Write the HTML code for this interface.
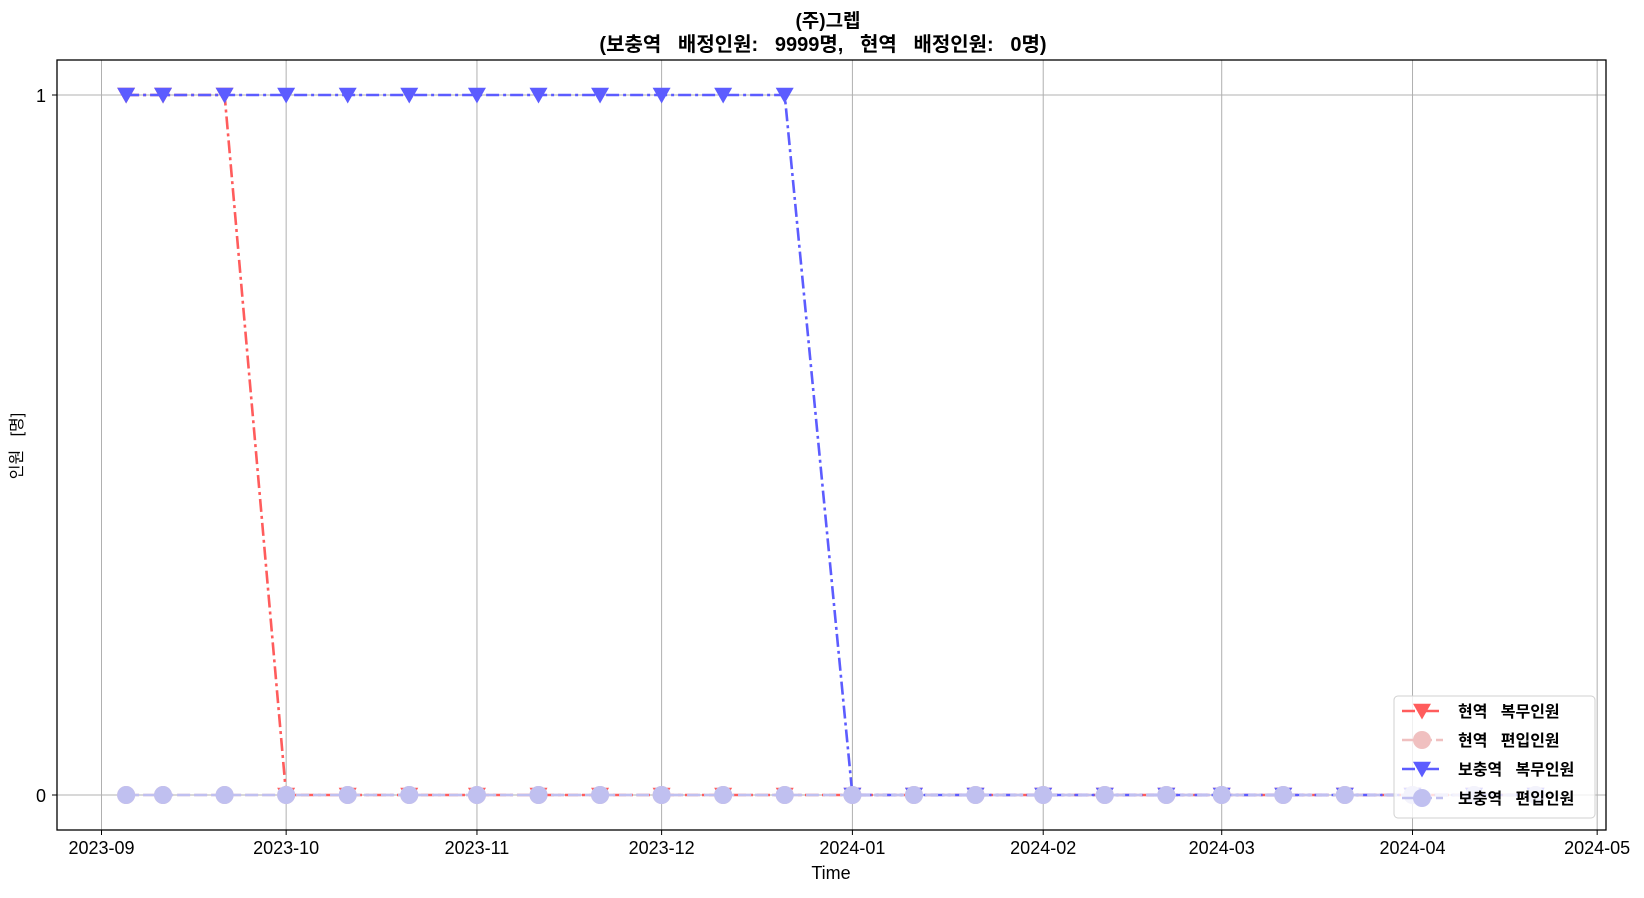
<!DOCTYPE html>
<html><head><meta charset="utf-8"><style>
body{margin:0;background:#fff;}
svg text{font-family:"Liberation Sans","Noto Sans CJK KR",sans-serif;fill:#000;white-space:pre;}
</style></head><body>
<svg id="chart" width="1644" height="893" xmlns="http://www.w3.org/2000/svg">
<text x="828" y="27" text-anchor="middle" font-size="19" font-weight="bold">(주)그렙</text>
<text x="823" y="51" text-anchor="middle" font-size="20" font-weight="bold">(보충역   배정인원:   9999명,   현역   배정인원:   0명)</text>
<g id="grid"></g>
<g id="series"></g>
<rect x="57" y="60" width="1549" height="770" fill="none" stroke="#000" stroke-width="1.3"/>
<g id="axes"></g>
<text x="831" y="879" text-anchor="middle" font-size="18">Time</text>
<text transform="translate(22,446) rotate(-90)" text-anchor="middle" font-size="16">인원   [명]</text>
<g id="legend"></g>
</svg>
<script>
const dates = ["2023-09-05","2023-09-11","2023-09-21","2023-10-01","2023-10-11","2023-10-21","2023-11-01","2023-11-11","2023-11-21","2023-12-01","2023-12-11","2023-12-21","2024-01-01","2024-01-11","2024-01-21","2024-02-01","2024-02-11","2024-02-21","2024-03-01","2024-03-11","2024-03-21","2024-04-01","2024-04-11","2024-04-21"];
const activeService = [1,1,1,0,0,0,0,0,0,0,0,0,0,0,0,0,0,0,0,0,0,0,0,0];
const activeTransfer = [0,0,0,0,0,0,0,0,0,0,0,0,0,0,0,0,0,0,0,0,0,0,0,0];
const reserveService = [1,1,1,1,1,1,1,1,1,1,1,1,0,0,0,0,0,0,0,0,0,0,0,0];
const reserveTransfer = [0,0,0,0,0,0,0,0,0,0,0,0,0,0,0,0,0,0,0,0,0,0,0,0];
const xTicks = ["2023-09","2023-10","2023-11","2023-12","2024-01","2024-02","2024-03","2024-04","2024-05"];
const yTicks = [0,1];
const seriesNames = ["현역   복무인원","현역   편입인원","보충역   복무인원","보충역   편입인원"];

const NS="http://www.w3.org/2000/svg";
const day0=Date.UTC(2023,8,1);
function xs(d){const p=d.split("-");const t=Date.UTC(+p[0],+p[1]-1,p[2]?+p[2]:1);return 101.5+(t-day0)/864e5*6.155;}
function ys(v){return 795-v*700;}
function mk(tag,attrs,parent){const e=document.createElementNS(NS,tag);for(const k in attrs)e.setAttribute(k,attrs[k]);parent.appendChild(e);return e;}
const grid=document.getElementById("grid"),axes=document.getElementById("axes"),ser=document.getElementById("series"),leg=document.getElementById("legend");
xTicks.forEach(t=>{const x=xs(t);
 const g=mk("line",{x1:x,x2:x,y1:60,y2:830,stroke:"#b0b0b0","stroke-width":1},grid);
 
 
 const tk=mk("line",{x1:x,x2:x,y1:830,y2:835,stroke:"#000"},axes);
 
 
 const tx=mk("text",{x:x,y:854,"text-anchor":"middle","font-size":"18"},axes);tx.textContent=t;
 
 
});
yTicks.forEach(v=>{const y=ys(v);
 const g=mk("line",{x1:57,x2:1606,y1:y,y2:y,stroke:"#b0b0b0","stroke-width":1},grid);
 
 
 const tk=mk("line",{x1:52,x2:57,y1:y,y2:y,stroke:"#000"},axes);
 
 
 const tx=mk("text",{x:46,y:y+7,"text-anchor":"end","font-size":"18"},axes);tx.textContent=v;
 
 
});
function tri(cx,cy,s){return `${cx-s},${cy-s*0.8} ${cx+s},${cy-s*0.8} ${cx},${cy+s*0.95}`;}
const specs=[
 {vals:activeService,color:"#ff5c5c",marker:"tri",dash:"13 4 3 4",name:"active-service"},
 {vals:activeTransfer,color:"#f0c0c0",marker:"circ",dash:"13 4",name:"active-transfer"},
 {vals:reserveService,color:"#5c5cff",marker:"tri",dash:"13 4 3 4",name:"reserve-service"},
 {vals:reserveTransfer,color:"#c0c0f0",marker:"circ",dash:"13 4",name:"reserve-transfer"}
];
specs.forEach(s=>{
 const g=mk("g",{},ser);
 
 
 const pts=dates.map((d,i)=>xs(d)+","+ys(s.vals[i])).join(" ");
 const pl=mk("polyline",{points:pts,fill:"none",stroke:s.color,"stroke-width":2.6,"stroke-dasharray":s.dash},g);
 
 
 dates.forEach((d,i)=>{const x=xs(d),y=ys(s.vals[i]);let m;
  if(s.marker==="tri")m=mk("polygon",{points:tri(x,y,9),fill:s.color},g);
  else m=mk("circle",{cx:x,cy:y,r:9,fill:s.color},g);
  
  
 });
});
const lb=mk("rect",{x:1394,y:696,width:201,height:122,rx:4,fill:"#fff","fill-opacity":0.8,stroke:"#d0d0d0"},leg);


specs.forEach((s,i)=>{const y=711+i*29;
 const e=mk("g",{},leg);
 
 
 mk("line",{x1:1402,x2:1443,y1:y,y2:y,stroke:s.color,"stroke-width":2.6,"stroke-dasharray":s.marker==="tri"?"13 4 3 4":"13 4"},e);
 if(s.marker==="tri")mk("polygon",{points:tri(1422,y,9),fill:s.color},e);else mk("circle",{cx:1422,cy:y,r:9,fill:s.color},e);
 const t=mk("text",{x:1458,y:y+6,"font-size":"16","font-weight":"bold"},e);t.textContent=seriesNames[i];
});
</script>
</body></html>
